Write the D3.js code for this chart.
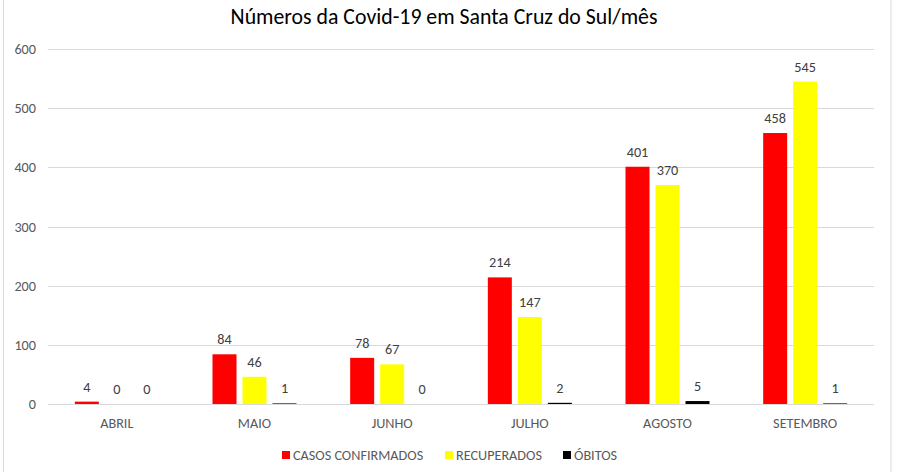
<!DOCTYPE html>
<html>
<head>
<meta charset="utf-8">
<script src="https://cdn.jsdelivr.net/npm/d3@7"></script>
<style>
  body { margin: 0; background: #fff; }
  svg { display: block; font-family: Carlito, Calibri, "Open Sans", sans-serif; }
</style>
</head>
<body>
<svg width="898" height="472"></svg>
<script>
// Data
const months = ["ABRIL", "MAIO", "JUNHO", "JULHO", "AGOSTO", "SETEMBRO"];
const series = ["CASOS CONFIRMADOS", "RECUPERADOS", "ÓBITOS"];
const confirmados = [4, 84, 78, 214, 401, 458];
const recuperados = [0, 46, 67, 147, 370, 545];
const obitos = [0, 1, 0, 2, 5, 1];
const yTicks = [0, 100, 200, 300, 400, 500, 600];
const colors = ["#ff0000", "#ffff00", "#000000"];

const values = [confirmados, recuperados, obitos];
const rows = months.map((m, i) => ({
  month: m,
  vals: series.map((s, j) => ({ key: s, value: values[j][i], color: colors[j] }))
}));

const svg = d3.select("svg");
const margin = { left: 48, right: 24, top: 49, bottom: 68 };
const width = 898, height = 472;
const small = 14.2;

// chart frame
svg.append("rect")
  .attr("x", 3.5).attr("y", -1).attr("width", 887.5).attr("height", 474)
  .attr("fill", "none").attr("stroke", "#d9d9d9");

const x = d3.scaleBand().domain(months).range([margin.left, width - margin.right]);
const x1 = d3.scaleBand().domain(series).range([0, 84]).paddingInner(0.2);
const y = d3.scaleLinear().domain([0, 600]).range([height - margin.bottom, margin.top]);

// gridlines
svg.append("g")
  .selectAll("line")
  .data(yTicks)
  .enter()
  .append("line")
  .attr("x1", margin.left).attr("x2", width - margin.right)
  .attr("y1", (d) => Math.round(y(d)) + 0.5).attr("y2", (d) => Math.round(y(d)) + 0.5)
  .attr("stroke", "#d9d9d9");

// y axis labels
svg.append("g")
  .selectAll("text")
  .data(yTicks)
  .enter()
  .append("text")
  .attr("x", 36).attr("y", (d) => y(d) + 5)
  .attr("text-anchor", "end")
  .attr("font-size", small).attr("fill", "#595959")
  .text((d) => d);

// bars
const groups = svg.append("g")
  .selectAll("g")
  .data(rows)
  .enter()
  .append("g")
  .attr("transform", (d) => `translate(${x(d.month) + x.bandwidth() / 2 - 42},0)`);

groups.selectAll("rect")
  .data((d) => d.vals)
  .enter()
  .append("rect")
  .attr("x", (d) => x1(d.key))
  .attr("width", x1.bandwidth())
  .attr("y", (d) => y(d.value))
  .attr("height", (d) => y(0) - y(d.value))
  .attr("fill", (d) => d.color);

// data labels
groups.selectAll("text")
  .data((d) => d.vals)
  .enter()
  .append("text")
  .attr("x", (d) => x1(d.key) + x1.bandwidth() / 2)
  .attr("y", (d) => y(d.value) - 10)
  .attr("text-anchor", "middle")
  .attr("font-size", small).attr("fill", "#404040")
  .text((d) => d.value);

// category labels
svg.append("g")
  .selectAll("text")
  .data(months)
  .enter()
  .append("text")
  .attr("x", (d) => x(d) + x.bandwidth() / 2)
  .attr("y", y(0) + 24)
  .attr("text-anchor", "middle")
  .attr("font-size", small).attr("fill", "#595959")
  .text((d) => d);

// title
svg.append("text")
  .attr("x", 444).attr("y", 24)
  .attr("text-anchor", "middle")
  .attr("font-size", 21.8).attr("fill", "#000")
  .text("Números da Covid-19 em Santa Cruz do Sul/mês");

// legend
const legendX = [282, 445, 563];
const legend = svg.append("g")
  .selectAll("g")
  .data(series)
  .enter()
  .append("g")
  .attr("transform", (d, i) => `translate(${legendX[i]},451)`);

legend.append("rect")
  .attr("width", 8).attr("height", 8)
  .attr("fill", (d, i) => colors[i]);

legend.append("text")
  .attr("x", 11).attr("y", 9)
  .attr("font-size", small).attr("fill", "#595959")
  .text((d) => d);
</script>
</body>
</html>
